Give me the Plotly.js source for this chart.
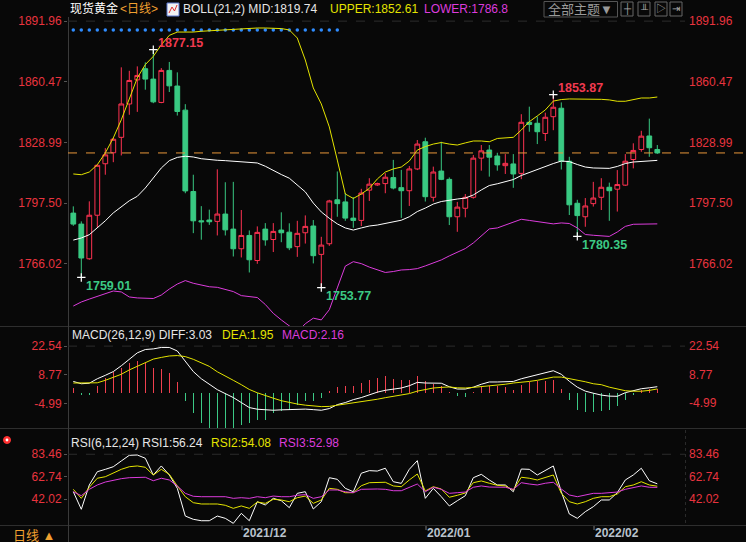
<!DOCTYPE html>
<html><head><meta charset="utf-8">
<script src="https://cdn.plot.ly/plotly-3.0.1.min.js"></script>
<style>html,body{margin:0;padding:0;background:#080808;overflow:hidden}#chart{width:746px;height:542px}</style>
</head><body><div id="chart"></div>
<script>
// ---------------- data ----------------
const dates = ["2021-11-02","2021-11-03","2021-11-04","2021-11-05","2021-11-08","2021-11-09","2021-11-10","2021-11-11","2021-11-12","2021-11-15","2021-11-16","2021-11-17","2021-11-18","2021-11-19","2021-11-22","2021-11-23","2021-11-24","2021-11-25","2021-11-26","2021-11-29","2021-11-30",
"2021-12-01","2021-12-02","2021-12-03","2021-12-06","2021-12-07","2021-12-08","2021-12-09","2021-12-10","2021-12-13","2021-12-14","2021-12-15","2021-12-16","2021-12-17","2021-12-20","2021-12-21","2021-12-22","2021-12-23","2021-12-24","2021-12-27","2021-12-28","2021-12-29","2021-12-30","2021-12-31",
"2022-01-03","2022-01-04","2022-01-05","2022-01-06","2022-01-07","2022-01-10","2022-01-11","2022-01-12","2022-01-13","2022-01-14","2022-01-17","2022-01-18","2022-01-19","2022-01-20","2022-01-21","2022-01-24","2022-01-25","2022-01-26","2022-01-27","2022-01-28","2022-01-31",
"2022-02-01","2022-02-02","2022-02-03","2022-02-04","2022-02-07","2022-02-08","2022-02-09","2022-02-10","2022-02-11"];

const open = [1792.4,1786.7,1768.7,1791.3,1818.0,1823.7,1831.7,1849.0,1861.5,1867.3,
1861.9,1849.8,1866.4,1858.3,1845.8,1803.6,1788.4,1788.8,1788.1,1791.9,
1784.1,1773.9,1780.8,1767.8,1784.1,1778.7,1783.6,1782.5,1775.0,1782.2,
1785.7,1771.0,1776.5,1799.3,1798.2,1789.8,1788.6,1804.3,1807.0,1807.7,
1810.8,1805.6,1804.0,1815.3,1829.4,1800.6,1814.2,1809.9,1790.5,1794.9,
1800.6,1820.9,1825.1,1822.0,1817.0,1817.9,1813.0,1839.5,1839.0,1833.7,
1842.4,1846.8,1819.3,1797.5,1790.5,1797.3,1800.6,1805.8,1804.8,1806.9,
1820.2,1825.4,1832.4,1825.4];
const high = [1795.9,1788.1,1798.5,1817.6,1826.1,1831.5,1868.0,1866.2,1868.5,1870.6,
1877.15,1867.6,1870.8,1865.4,1848.9,1812.3,1796.0,1794.2,1815.1,1808.4,
1808.6,1794.0,1783.4,1785.5,1787.2,1787.2,1792.8,1787.1,1788.4,1791.2,
1788.8,1780.1,1799.3,1814.0,1802.8,1800.7,1805.0,1810.5,1808.2,1813.1,
1820.0,1814.8,1816.8,1830.3,1831.5,1816.5,1829.4,1810.9,1798.2,1802.3,
1822.5,1827.7,1827.7,1823.7,1823.0,1823.0,1843.7,1847.6,1842.5,1844.5,
1853.87,1849.8,1821.6,1799.3,1800.2,1808.6,1810.5,1808.2,1814.7,1823.0,
1828.6,1835.1,1841.4,1827.7];
const low = [1785.8,1759.01,1768.2,1785.0,1812.3,1818.8,1822.3,1843.4,1844.9,1856.4,
1849.4,1849.4,1855.2,1843.0,1802.7,1782.0,1778.6,1786.3,1780.8,1780.8,
1769.9,1769.4,1761.6,1766.1,1775.5,1772.2,1777.3,1773.2,1769.7,1776.6,
1766.3,1753.77,1775.4,1790.5,1788.4,1784.8,1785.7,1798.7,1806.5,1802.7,
1804.7,1789.9,1796.1,1814.7,1798.4,1798.4,1809.5,1786.2,1782.7,1790.2,
1799.9,1814.4,1811.3,1814.4,1812.7,1805.5,1810.0,1834.6,1828.2,1829.8,
1835.4,1815.0,1791.4,1780.35,1785.3,1795.8,1794.0,1788.4,1793.2,1806.5,
1815.6,1824.2,1821.6,1823.1];
const close = [1786.7,1769.1,1791.3,1817.2,1822.6,1830.7,1849.0,1861.2,1863.8,1861.9,
1850.1,1866.4,1858.4,1845.1,1803.9,1788.4,1787.9,1787.9,1791.9,1783.7,
1773.9,1780.8,1768.2,1782.4,1778.5,1782.9,1782.2,1774.4,1781.9,1785.5,
1770.3,1775.8,1798.7,1797.3,1789.8,1788.6,1802.8,1807.4,1807.7,1811.0,
1805.4,1804.0,1815.3,1828.2,1800.9,1813.7,1809.9,1790.5,1795.5,1800.6,
1820.9,1824.7,1821.4,1817.4,1818.2,1812.7,1839.5,1838.4,1834.6,1842.1,
1847.3,1819.3,1796.7,1791.1,1796.1,1800.2,1805.8,1804.0,1807.2,1819.3,
1824.9,1832.3,1826.3,1823.6];

const bollUpper = [1812.7,1812.3,1813.7,1817.5,1823.6,1831.4,1840.8,1852.1,1862.5,1869.4,
1873.7,1879.7,1884.6,1886.3,1886.3,1886.3,1886.7,1887.0,1887.2,1887.4,
1887.7,1888.0,1888.3,1888.4,1888.4,1888.4,1888.1,1887.4,1883.2,1871.8,
1857.3,1849.0,1837.1,1819.9,1802.3,1800.0,1802.3,1805.2,1810.1,1813.7,
1815.3,1816.3,1819.4,1825.1,1826.9,1828.2,1829.0,1828.2,1827.7,1828.8,
1829.8,1829.8,1829.4,1831.1,1831.4,1831.7,1835.5,1839.8,1842.8,1845.9,
1850.5,1851.3,1851.6,1851.6,1851.6,1851.6,1851.4,1851.1,1850.4,1850.4,
1851.1,1852.1,1852.1,1852.61];
const bollMid = [1778.4,1779.5,1781.2,1784.7,1788.4,1792.5,1795.9,1798.8,1801.1,1805.4,
1810.6,1815.8,1819.6,1821.3,1821.9,1821.5,1820.6,1820.1,1819.8,1819.6,
1819.3,1818.9,1818.9,1818.4,1816.7,1814.4,1812.4,1810.5,1807.0,1803.4,
1797.6,1793.0,1789.7,1786.8,1784.7,1783.6,1784.7,1785.7,1786.2,1787.0,
1787.8,1788.7,1790.5,1793.2,1795.0,1797.1,1798.4,1799.2,1799.7,1800.2,
1801.8,1804.4,1806.7,1807.6,1808.8,1809.8,1811.9,1813.5,1815.0,1816.6,
1818.1,1819.4,1819.1,1817.6,1816.3,1815.8,1815.6,1815.6,1816.6,1818.1,
1818.9,1819.2,1819.3,1819.74];
const bollLower = [1744.2,1746.3,1747.8,1749.1,1750.7,1752.0,1751.5,1748.9,1748.4,1748.1,
1748.1,1749.9,1753.0,1755.6,1757.4,1756.0,1754.9,1754.2,1753.9,1752.8,
1751.7,1749.6,1749.1,1748.6,1745.0,1740.4,1737.0,1733.6,1730.8,1735.0,
1737.9,1737.0,1742.3,1753.6,1764.9,1767.2,1766.2,1764.4,1762.9,1761.6,
1762.1,1762.9,1763.1,1763.6,1765.0,1766.4,1768.1,1770.2,1772.2,1774.0,
1776.9,1780.5,1784.2,1784.7,1786.2,1788.0,1789.2,1788.6,1788.0,1787.3,
1786.8,1787.3,1787.0,1784.7,1781.3,1780.9,1780.5,1780.3,1782.6,1785.5,
1786.6,1786.6,1786.6,1786.8];

// blue signal dots along the top of the price panel (null = no dot)
const topSignal = [1887.4,1887.4,1887.4,1887.4,1887.4,1887.4,1887.4,1887.4,1887.4,1887.4,
1887.4,1887.4,1887.4,1887.4,1887.4,1887.4,1887.4,1887.4,1887.4,1887.4,
1887.4,1887.4,1887.4,1887.4,1887.4,1887.4,1887.4,1887.4,1887.4,1887.4,
1887.4,1887.4,1887.4,1887.4,null,null,null,null,null,null,
null,null,null,null,null,null,null,null,null,null,
null,null,null,null,null,null,null,null,null,null,
null,null,null,null,null,null,null,null,null,null,
null,null,null,null];

const macdDiff = [5.55,4.45,4.7,6.85,8.5,10.3,13.1,16.4,19.3,20.9,
21.2,21.9,21.9,20.2,15.0,10.3,6.85,4.1,1.6,-0.3,
-2.2,-4.6,-7.0,-7.8,-8.1,-8.3,-8.1,-8.0,-7.75,-7.75,
-8.0,-8.3,-7.5,-5.6,-4.6,-3.2,-2.2,-0.8,0.4,1.3,
1.9,2.4,3.5,5.1,4.8,4.8,4.7,3.0,1.9,1.9,
2.8,4.2,5.3,5.3,5.3,5.55,6.85,7.8,8.75,9.5,
10.7,9.0,5.65,2.8,0.9,-0.1,-1.0,-1.5,-1.6,0.15,
1.1,2.05,2.5,3.03];
const macdDea = [4.8,4.8,4.8,4.9,6.1,7.55,9.0,11.1,12.8,14.7,
16.3,17.1,17.8,18.0,17.5,16.2,14.5,12.8,10.2,8.3,
6.1,4.0,1.7,0.1,-1.3,-2.5,-3.7,-4.6,-5.3,-5.85,
-6.2,-6.55,-6.45,-5.9,-5.35,-4.8,-4.3,-3.7,-3.0,-2.25,
-1.6,-1.0,-0.3,0.9,1.6,2.4,2.7,2.9,2.5,2.4,
2.7,3.0,3.35,3.7,4.2,4.8,5.1,5.55,6.1,6.85,
7.65,7.65,7.0,6.1,5.4,4.45,4.0,2.8,1.8,1.1,
0.85,0.85,1.25,1.95];
const macdHist = [2.4,-1.1,-0.8,3.5,7.2,9.9,12.0,14.4,15.5,14.4,
12.0,11.5,9.6,5.1,-3.7,-9.6,-14.4,-17.5,-17.5,-17.5,
-16.7,-15.2,-14.4,-12.8,-12.8,-9.6,-8.8,-8.0,-5.6,-3.7,
-3.7,-2.4,0.8,2.9,3.5,3.5,4.8,6.4,7.2,8.0,
6.9,6.1,6.4,8.3,5.6,4.5,3.2,0.5,-1.6,-2.1,
0.6,2.9,3.5,3.2,2.7,1.6,4.0,5.1,5.6,5.6,
6.1,2.1,-3.5,-8.0,-9.3,-9.3,-8.5,-8.0,-6.4,-3.5,
-1.1,1.6,1.9,2.16];

const rsi1 = [49.0,32.8,55.2,67.4,69.6,72.0,77.3,82.5,82.8,79.8,
64.4,72.7,64.4,52.1,26.6,23.6,22.3,22.3,26.6,24.5,
19.9,29.1,22.3,39.8,36.8,42.9,40.7,34.3,47.5,49.0,
33.1,39.8,61.9,60.4,52.1,49.0,66.0,68.4,68.0,70.6,
58.2,56.7,69.6,77.6,42.9,52.1,44.4,35.9,40.7,45.3,
61.9,65.0,59.8,55.2,55.2,49.0,69.9,69.6,64.4,68.4,
72.7,49.0,28.5,24.5,30.6,35.2,41.4,41.4,48.1,59.8,
64.4,70.6,59.1,56.24];
const rsi2 = [51.2,42.9,53.1,61.4,62.8,66.0,69.6,72.0,72.7,71.5,
64.4,69.6,65.0,54.3,44.4,38.9,37.7,37.7,37.7,36.5,
33.7,35.9,33.7,39.5,38.3,42.0,41.4,39.8,43.5,45.0,
38.3,41.4,52.1,51.2,48.1,48.1,54.5,57.3,57.3,57.7,
54.3,53.6,59.8,65.3,49.7,53.6,51.5,43.9,45.7,47.8,
57.3,58.9,56.8,54.9,54.3,50.6,62.3,61.4,59.8,62.3,
64.4,47.5,39.8,37.7,39.8,42.9,44.4,44.4,46.9,53.6,
55.2,58.2,55.2,54.08];
const rsi3 = [49.0,45.3,51.2,55.2,57.9,59.8,61.0,61.9,62.3,62.3,
59.1,61.4,59.8,54.3,47.5,44.8,44.4,44.4,44.4,44.4,
42.9,43.5,42.9,44.4,43.5,45.0,44.4,44.4,45.7,46.3,
42.9,44.4,50.6,50.6,49.0,48.1,51.2,51.5,51.5,51.2,
49.9,49.9,53.3,56.1,49.0,53.1,51.2,47.5,48.1,48.7,
53.1,54.3,53.3,53.1,53.1,51.2,57.3,56.1,55.2,56.8,
57.7,51.5,46.0,44.4,46.0,47.5,47.5,48.1,48.7,51.2,
53.1,54.3,53.1,52.98];

const extremeDates = ["2021-11-16","2022-01-25","2021-11-03","2021-12-15","2022-01-28"];
const extremeVals  = [1877.15,1853.87,1759.01,1753.77,1780.35];
const extremeKind  = ["high","high","low","low","low"];

const mainTicks = [1891.96,1860.47,1828.99,1797.50,1766.02];
const macdTicks = [22.54,8.77,-4.99];
const rsiTicks  = [83.46,62.74,42.02];
const monthTickDates = ["2021-12-01","2022-01-03","2022-02-01"];
const monthTickText  = ["2021/12","2022/01","2022/02"];

// ---------------- style ----------------
const W=746,H=542;
const fx=p=>p/W, fy=p=>1-p/H;
const BG='#080808', RED='#ff3352', RED_T='#e8343f', GREEN='#39c982', YEL='#e4e400', MAG='#dc3cdc',
      WHITE='#e6e6e6', ORANGE='#f0a030', LINEC='#2e2e2e';
const NUMF='Liberation Sans, Arial, sans-serif';
const CJKF='Liberation Sans, Noto Sans CJK SC, sans-serif';
const idx = d => dates.indexOf(d);
const X0 = 68, X1 = 685, STEP = 8, C0 = 73.3;

const traces = [];
traces.push({type:'scatter', mode:'markers', x:dates, y:topSignal, xaxis:'x', yaxis:'y',
  marker:{symbol:'circle', size:3.5, color:'#2f8cff'}, hoverinfo:'skip'});
traces.push({type:'candlestick', x:dates, open:open, high:high, low:low, close:close,
  xaxis:'x', yaxis:'y', whiskerwidth:0,
  increasing:{line:{color:RED, width:1}, fillcolor:BG},
  decreasing:{line:{color:GREEN, width:1}, fillcolor:GREEN}, hoverinfo:'skip'});
traces.push({type:'scatter', mode:'lines', x:dates, y:bollUpper, line:{color:YEL, width:1}, xaxis:'x', yaxis:'y'});
traces.push({type:'scatter', mode:'lines', x:dates, y:bollMid, line:{color:'#ffffff', width:1}, xaxis:'x', yaxis:'y'});
traces.push({type:'scatter', mode:'lines', x:dates, y:bollLower, line:{color:MAG, width:1}, xaxis:'x', yaxis:'y'});
traces.push({type:'scatter', mode:'markers', x:extremeDates, y:extremeVals, xaxis:'x', yaxis:'y',
  marker:{symbol:'cross-thin', size:6, line:{color:'#ffffff', width:1.2}}});

traces.push({type:'bar', x:dates, y:macdHist, xaxis:'x', yaxis:'y2', width:0.14,
  marker:{color:macdHist.map(v=>v>=0?'#f0404e':'#3cc985'), line:{width:0}}});
traces.push({type:'scatter', mode:'lines', x:dates, y:macdDiff, line:{color:'#ffffff', width:1}, xaxis:'x', yaxis:'y2'});
traces.push({type:'scatter', mode:'lines', x:dates, y:macdDea, line:{color:YEL, width:1}, xaxis:'x', yaxis:'y2'});

traces.push({type:'scatter', mode:'lines', x:dates, y:rsi1, line:{color:'#ffffff', width:1}, xaxis:'x', yaxis:'y3'});
traces.push({type:'scatter', mode:'lines', x:dates, y:rsi2, line:{color:YEL, width:1}, xaxis:'x', yaxis:'y3'});
traces.push({type:'scatter', mode:'lines', x:dates, y:rsi3, line:{color:MAG, width:1}, xaxis:'x', yaxis:'y3'});

function yax(domainPx, range, ticks){
  return {domain:[fy(domainPx[1]), fy(domainPx[0])], range:range, anchor:'x',
    tickvals:ticks, ticktext:ticks.map(v=>v.toFixed(2)), tickfont:{color:RED_T, size:12, family:NUMF},
    ticks:'outside', ticklen:3, tickcolor:'#555', showgrid:false, zeroline:false, showline:false, fixedrange:true};
}

const shapes = [];
const line = (x0,y0,x1,y1,color,dash,width)=>({type:'line', xref:'paper', yref:'paper', x0:fx(x0), x1:fx(x1), y0:fy(y0), y1:fy(y1), line:{color:color, width:width||1, dash:dash||'solid'}});
shapes.push(line(0,326.5,746,326.5,LINEC));
shapes.push(line(0,428.5,746,428.5,LINEC));
shapes.push(line(0,525.5,746,525.5,LINEC));
shapes.push(line(68.5,17,68.5,542,'#3a3a3a'));
shapes.push(line(685.5,430,685.5,525,'#2a2a2a','dot'));
// dashed top gridlines
[['y',mainTicks[0]],['y2',macdTicks[0]],['y3',rsiTicks[0]]].forEach(([yr,v])=>{
  shapes.push({type:'line', xref:'paper', yref:yr, x0:fx(X0), x1:fx(X1), y0:v, y1:v, line:{color:'#2c2c2c', width:1, dash:'dash'}});
});
// last price line
shapes.push({type:'line', xref:'paper', yref:'y', x0:fx(X0), x1:1, y0:close[close.length-1], y1:close[close.length-1], line:{color:'#e8963a', width:1, dash:'dash'}});
// month ticks in bottom bar
monthTickDates.forEach(d=>{
  shapes.push({type:'line', xref:'x', yref:'paper', x0:idx(d)+0.09, x1:idx(d)+0.09, y0:fy(526), y1:fy(530), line:{color:'#777', width:1}});
});
// top-right toolbar
shapes.push({type:'rect', xref:'paper', yref:'paper', x0:fx(544), x1:fx(617.5), y0:fy(17), y1:fy(1.5), line:{color:'#555', width:1}, fillcolor:'rgba(0,0,0,0)'});
[621,638,655,670].forEach(x=>{
  shapes.push({type:'rect', xref:'paper', yref:'paper', x0:fx(x), x1:fx(x+12), y0:fy(16), y1:fy(2), line:{color:'#666', width:1}, fillcolor:'rgba(0,0,0,0)'});
});
// BOLL icon
shapes.push({type:'rect', xref:'paper', yref:'paper', x0:fx(167), x1:fx(179), y0:fy(16), y1:fy(3), line:{color:'#5a78d0', width:1}, fillcolor:'#f2f2f2'});
shapes.push({type:'path', xref:'paper', yref:'paper', path:`M ${fx(169)} ${fy(13)} L ${fx(172)} ${fy(7)} L ${fx(174.5)} ${fy(11)} L ${fx(177)} ${fy(5)}`, line:{color:'#e03030', width:1}});
// RSI panel icon
shapes.push({type:'circle', xref:'paper', yref:'paper', x0:fx(3.5), x1:fx(10.5), y0:fy(443.5), y1:fy(436.5), line:{color:'#ff3030', width:1}, fillcolor:'#ff3030'});
shapes.push({type:'circle', xref:'paper', yref:'paper', x0:fx(5.6), x1:fx(8.4), y0:fy(441.4), y1:fy(438.6), line:{width:0}, fillcolor:'#ffffff'});

const ann = [];
const txt = (x,y,text,color,size,family,anchor,bold)=>({xref:'paper', yref:'paper', x:fx(x), y:fy(y), text:bold?'<b>'+text+'</b>':text, showarrow:false,
  xanchor:anchor||'left', yanchor:'middle', font:{color:color, size:size||12, family:family||NUMF}, borderpad:0});
// header
ann.push(txt(69,9,'现货黄金','#ffffff',12,CJKF));
ann.push(txt(118.5,9,'&lt;日线&gt;',ORANGE,12,CJKF));
ann.push(txt(181.5,9,'BOLL(21,2) MID:'+bollMid[bollMid.length-1].toFixed(2),WHITE,12));
ann.push(txt(328.5,9,'UPPER:'+bollUpper[bollUpper.length-1].toFixed(2),YEL,12));
ann.push(txt(423,9,'LOWER:'+bollLower[bollLower.length-1].toFixed(1),MAG,12));
ann.push(txt(580.5,9.5,'全部主题▼','#9a9a9a',13,CJKF,'center'));
['┼','╨','▷','⇥'].forEach((g,i)=>ann.push(txt([627,644,661,676][i],9,g,'#aaaaaa',10,CJKF,'center')));
// panel headers
ann.push(txt(70.5,334.5,'MACD(26,12,9) DIFF:'+macdDiff[macdDiff.length-1].toFixed(2),WHITE,12));
ann.push(txt(221,334.5,'DEA:'+macdDea[macdDea.length-1].toFixed(2),YEL,12));
ann.push(txt(281,334.5,'MACD:'+macdHist[macdHist.length-1].toFixed(2),MAG,12));
ann.push(txt(70,443,'RSI(6,12,24) RSI1:'+rsi1[rsi1.length-1].toFixed(2),WHITE,12));
ann.push(txt(210,443,'RSI2:'+rsi2[rsi2.length-1].toFixed(2),YEL,12));
ann.push(txt(277.5,443,'RSI3:'+rsi3[rsi3.length-1].toFixed(2),MAG,12));
// right axis labels
[['y',mainTicks],['y2',macdTicks],['y3',rsiTicks]].forEach(([yr,t])=>{
  t.forEach(v=>ann.push({xref:'paper', yref:yr, x:fx(688), y:v, text:v.toFixed(2), showarrow:false, xanchor:'left', yanchor:'middle', borderpad:0,
    font:{color:RED_T, size:12, family:NUMF}}));
});
// extreme labels
extremeDates.forEach((d,i)=>{
  const hi = extremeKind[i]==='high';
  ann.push({xref:'x', yref:'y', x:idx(d), y:extremeVals[i], text:'<b>'+extremeVals[i].toFixed(2)+'</b>', showarrow:false,
    xanchor:'left', yanchor:'middle', xshift:4, yshift: hi?7:-8.5, borderpad:0,
    font:{color: hi?'#f03a50':'#3cc985', size:12.5, family:NUMF}});
});
// bottom bar
ann.push(txt(12,535,'日线 ▲',ORANGE,13,CJKF));
monthTickDates.forEach((d,i)=>{
  ann.push({xref:'x', yref:'paper', x:idx(d), y:fy(532.5), text:'<b>'+monthTickText[i]+'</b>', showarrow:false, xanchor:'left', yanchor:'middle',
    xshift:1, borderpad:0, font:{color:'#b9c2cc', size:12, family:NUMF}});
});

const layout = {
  width:W, height:H, margin:{l:0,r:0,t:0,b:0}, paper_bgcolor:BG, plot_bgcolor:BG,
  showlegend:false, hovermode:false, dragmode:false, boxgap:0.15, bargap:0,
  font:{family:NUMF, size:12, color:WHITE},
  xaxis:{type:'category', domain:[fx(X0), fx(X1)], range:[(X0-C0)/STEP, (X1-C0)/STEP], anchor:'y3',
    showticklabels:false, showgrid:false, zeroline:false, showline:false, ticks:'', rangeslider:{visible:false}, fixedrange:true},
  yaxis:  yax([18,326], [1733.84,1893.59], mainTicks),
  yaxis2: yax([328,428], [-16.83,31.25], macdTicks),
  yaxis3: yax([430,525], [18.36,105.8], rsiTicks),
  shapes:shapes, annotations:ann
};
Plotly.newPlot('chart', traces, layout, {staticPlot:true, displayModeBar:false});
</script></body></html>
